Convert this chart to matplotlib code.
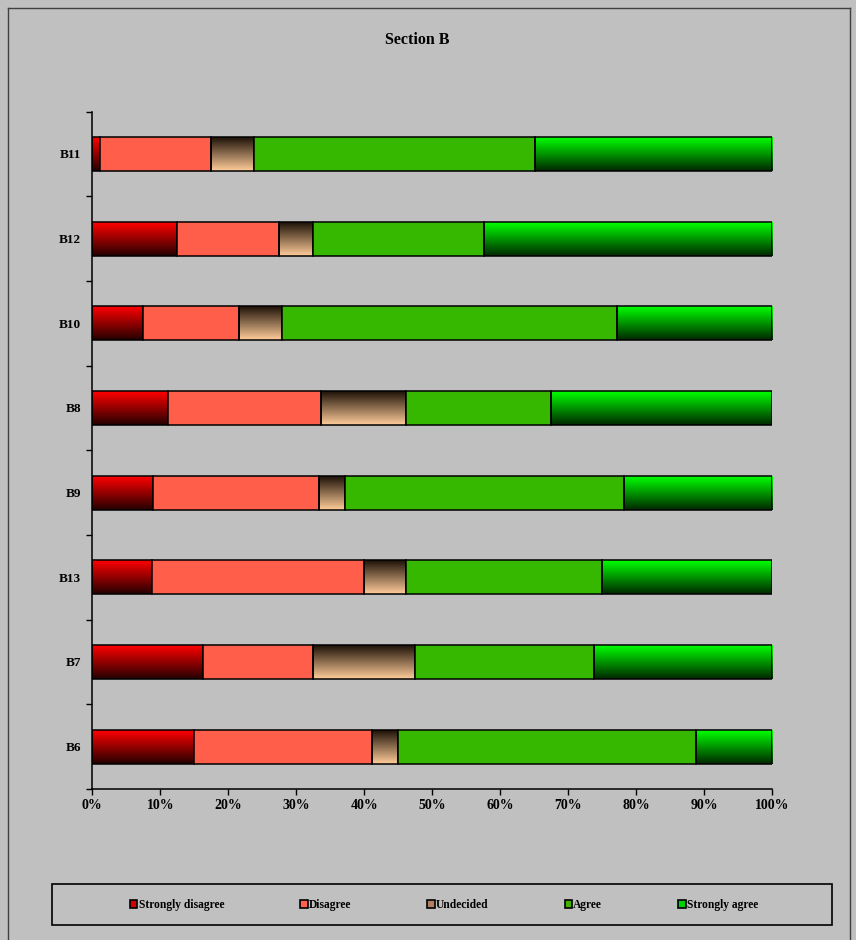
import numpy as np
import matplotlib.pyplot as plt
from matplotlib.patches import Patch
from matplotlib.lines import Line2D
from matplotlib.colors import to_rgb

plt.rcParams['font.family'] = 'Liberation Serif'
plt.rcParams['font.weight'] = 'bold'

# data (percent of responses), bottom row first
questions = ['B6', 'B7', 'B13', 'B9', 'B8', 'B10', 'B12', 'B11']
strongly_disagree = [15.0, 16.3, 8.8, 8.9, 11.2, 7.5, 12.5, 1.2]
disagree = [26.2, 16.2, 31.2, 24.4, 22.5, 14.0, 15.0, 16.3]
undecided = [3.8, 15.0, 6.2, 3.9, 12.5, 6.4, 5.0, 6.3]
agree = [43.8, 26.3, 28.8, 41.0, 21.3, 49.3, 25.1, 41.3]
strongly_agree = [11.2, 26.2, 25.0, 21.8, 32.5, 22.8, 42.4, 34.9]
labels = ['Strongly disagree', 'Disagree', 'Undecided', 'Agree', 'Strongly agree']

bg = '#c0c0c0'
# fill styles: ('grad', top, bottom) or ('flat', colour)
styles = [('grad', '#ff0000', '#250000'),
          ('flat', '#ff5e4a'),
          ('grad', '#1e1208', '#ffcc99'),
          ('flat', '#36b800'),
          ('grad', '#00ff00', '#002800')]
legend_colors = ['#d00000', '#ff6050', '#b08060', '#40b000', '#00d000']


def gradient(top, bottom, n=64):
    t = np.linspace(0, 1, n)[:, None, None]
    return (1 - t) * np.array(to_rgb(top)) + t * np.array(to_rgb(bottom))


fig = plt.figure(figsize=(8.56, 9.40), dpi=100, facecolor=bg)
ax = fig.add_axes([92.3 / 856, 1 - 789 / 940, 680 / 856, 677.4 / 940])
ax.set_facecolor(bg)

series = [strongly_disagree, disagree, undecided, agree, strongly_agree]
y = np.arange(len(questions))
h = 0.4
left = np.zeros(len(questions))
for vals, st in zip(series, styles):
    vals = np.array(vals)
    if st[0] == 'grad':
        img = gradient(st[1], st[2])
        for yi, l, v in zip(y, left, vals):
            ax.imshow(img, extent=[l, l + v, yi - h / 2, yi + h / 2], aspect='auto',
                      interpolation='bilinear', origin='upper', zorder=2)
        face = 'none'
    else:
        face = st[1]
    ax.barh(y, vals, left=left, height=h, facecolor=face, edgecolor='black',
            linewidth=1.1, zorder=3)
    left += vals

ax.set_xlim(0, 100)
ax.set_ylim(-0.5, len(questions) - 0.5)
ax.set_xticks(np.arange(0, 101, 10))
ax.set_xticklabels([f'{v}%' for v in range(0, 101, 10)], fontsize=10, fontweight='bold')
ax.set_yticks(y)
ax.set_yticklabels(questions, fontsize=9.5, fontweight='bold')
ax.set_yticks(np.arange(-0.5, len(questions)), minor=True)
ax.tick_params(axis='y', which='major', length=0, pad=8)
ax.tick_params(axis='y', which='minor', length=4, width=1, direction='out')
ax.tick_params(axis='x', which='major', length=4, width=1, direction='out', pad=3)
for s in ['top', 'right']:
    ax.spines[s].set_visible(False)
for s in ['left', 'bottom']:
    ax.spines[s].set_linewidth(1.1)

fig.text(417 / 856, 1 - 40 / 940, 'Section B', ha='center', va='center',
         fontsize=11.5, fontweight='bold')

# outer chart border
fig.add_artist(Line2D([8 / 856, 8 / 856], [0, 1 - 8 / 940], color='#404040', lw=1,
                      transform=fig.transFigure))
fig.add_artist(Line2D([8 / 856, 850 / 856], [1 - 8 / 940, 1 - 8 / 940], color='#404040',
                      lw=1, transform=fig.transFigure))
fig.add_artist(Line2D([850 / 856, 850 / 856], [0, 1 - 8 / 940], color='#404040', lw=1,
                      transform=fig.transFigure))

# legend box
fig.add_artist(plt.Rectangle((51.5 / 856, 1 - 925 / 940), 780 / 856, 41 / 940,
                             facecolor='none', edgecolor='black', lw=1.2,
                             transform=fig.transFigure))
handles = [Patch(facecolor=c, edgecolor='black', linewidth=1.2) for c in legend_colors]
fig.legend(handles, labels, loc='center', bbox_to_anchor=(444 / 856, 1 - 905 / 940),
           ncol=5, frameon=False, prop={'family': 'Liberation Serif', 'weight': 'bold', 'size': 8.3},
           handlelength=0.65, handleheight=0.65, handletextpad=0.1, columnspacing=6.6,
           borderpad=0)

fig.savefig('out.png', dpi=100, facecolor=bg)
